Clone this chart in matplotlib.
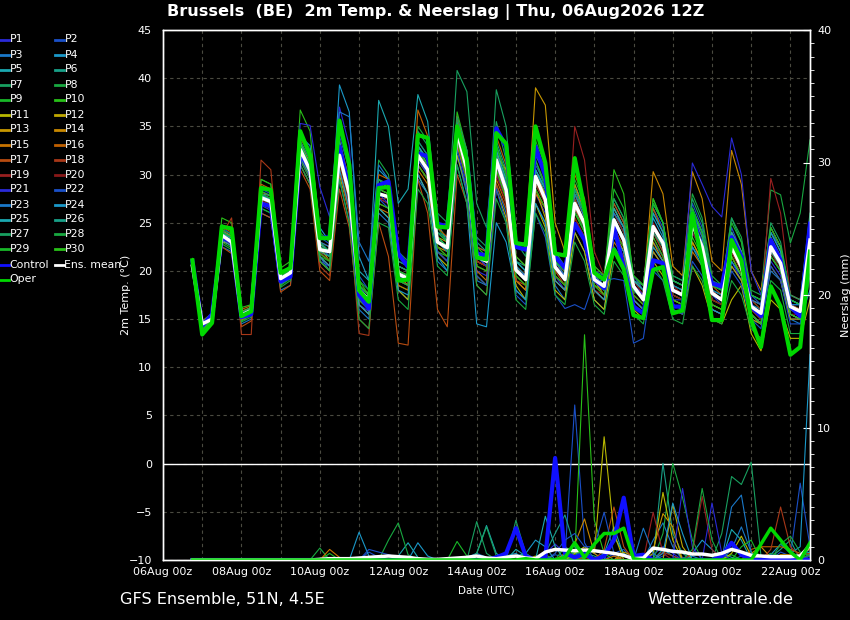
import numpy as np
import pandas as pd
import matplotlib
matplotlib.use("Agg")
import matplotlib.pyplot as plt
import matplotlib.dates as mdates
from matplotlib.lines import Line2D
from matplotlib.ticker import MultipleLocator

# 6-hourly steps, 06Aug2026 18z .. 22Aug2026 12z
times = pd.date_range("2026-08-06 18:00", periods=64, freq="6h")
date_ticks = pd.date_range("2026-08-06", "2026-08-22", freq="2D")

# 2m temperature (degC)
t_oper = [21.1,13.4,14.6,24.6,24.4,15.3,15.8,28.6,28.4,19.8,20.3,34.5,32.0,23.4,23.4,35.6,31.0,18.0,16.8,28.6,
          28.7,19.0,19.1,34.1,33.8,24.6,24.5,35.0,31.5,21.4,21.2,34.3,33.2,22.9,22.7,35.0,31.2,21.8,21.6,31.7,
          26.5,19.8,19.1,22.2,20.2,15.4,15.1,20.1,20.4,15.6,15.9,26.0,21.0,14.9,14.9,23.2,21.1,14.9,12.1,18.4,
          16.3,11.3,12.1,22.0]
t_ctrl = [21.0,14.3,15.5,23.5,23.0,15.2,15.5,27.0,26.7,18.9,19.4,32.2,30.5,23.4,23.5,32.9,28.5,17.5,16.1,28.9,
          29.3,21.8,20.4,32.2,31.9,24.9,24.6,34.5,31.5,21.8,21.6,34.8,32.9,22.5,22.2,32.9,29.8,21.5,20.3,24.9,
          23.2,19.1,18.2,24.6,20.4,16.3,15.6,21.1,20.8,16.3,16.3,26.0,21.8,18.7,18.4,23.5,21.5,16.3,15.3,23.2,
          21.1,16.3,15.3,24.9]
t_mean = [20.5,14.5,15.0,23.7,23.0,15.4,15.9,27.6,27.2,19.2,19.8,32.6,30.4,22.2,22.0,32.0,28.0,18.0,17.0,28.0,
          27.7,19.7,19.2,32.0,30.5,23.0,22.4,34.4,30.5,21.5,21.0,31.5,28.4,20.1,19.1,29.8,27.4,20.4,19.1,27.0,
          24.9,19.1,18.4,25.3,23.2,18.4,17.0,24.6,22.9,18.0,17.5,24.9,22.5,17.7,17.0,22.5,20.4,16.3,15.6,22.5,
          20.8,16.3,15.8,23.2]

t_p01 = [20.6, 14.2,15.2,23.2,22.6, 15.0,15.5,26.8,26.3, 18.6,19.2,31.5,29.5, 21.0,20.5,31.0,27.0, 16.5,15.8,27.5,27.0, 19.0,18.5,31.0,29.5, 22.0,21.0,33.0,29.0, 20.0,19.5,30.0,27.5, 19.0,18.0,28.0,26.0, 19.5,18.0,25.0,23.0, 18.0,17.0,23.5,22.0, 17.0,16.0,23.0,21.5, 17.0,17.0,24.0,22.0, 17.5,16.5,21.0,19.0, 15.5,14.5,21.0,19.5, 15.0,15.0,21.0]
t_p02 = [20.9, 14.6,15.4,24.5,23.8, 15.8,16.2,28.5,28.0, 19.8,20.4,33.5,31.5, 23.5,22.8,34.0,30.5, 19.5,18.0,29.5,28.5, 20.5,20.0,33.5,32.0, 24.0,23.5,35.5,31.5, 22.5,22.0,33.0,30.0, 21.0,20.0,31.0,29.0, 21.5,20.0,28.5,26.0, 20.0,19.5,27.0,25.0, 19.5,18.0,26.5,24.5, 19.0,18.5,27.0,24.5, 19.0,18.0,24.5,22.0, 17.5,16.5,24.0,22.5, 17.5,17.0,25.5]
t_p03 = [20.3, 14.0,14.8,22.5,22.0, 14.5,15.0,26.0,25.5, 18.0,18.5,31.0,29.0, 21.5,20.0,29.5,25.0, 16.0,15.0,26.0,25.0, 18.0,17.0,29.5,28.0, 21.0,20.0,32.0,28.0, 19.0,18.5,29.0,26.0, 18.0,17.0,27.0,25.0, 18.5,17.0,24.0,22.0, 17.0,16.0,22.5,21.0, 16.5,15.5,22.0,20.5, 16.5,16.0,22.5,21.0, 16.5,16.0,20.5,19.0, 15.0,14.5,20.0,19.0, 15.0,14.5,20.5]
t_p04 = [20.7, 14.4,15.3,24.0,23.5, 15.4,16.0,28.0,27.8, 19.5,20.0,34.0,33.0, 24.5,23.0,39.3,36.5, 21.5,19.0,30.5,29.5, 21.0,20.5,33.0,31.0, 23.5,22.5,35.0,32.0, 22.0,21.0,32.5,29.0, 20.0,19.5,30.5,28.0, 20.5,19.0,27.5,25.0, 19.5,18.5,26.0,24.0, 18.5,17.5,25.5,23.5, 18.5,18.0,25.5,23.0, 18.0,17.5,23.0,21.0, 16.5,16.0,23.0,21.5, 16.5,16.5,24.0]
t_p05 = [20.5, 14.3,15.0,23.5,23.0, 15.2,15.8,27.5,27.0, 19.0,19.5,32.5,30.5, 22.5,22.0,33.0,29.5, 20.0,19.0,37.7,35.0, 27.0,28.5,38.3,35.5, 25.0,23.0,34.0,30.0, 21.5,20.5,31.0,28.0, 20.0,19.0,30.0,28.0, 20.5,19.5,27.0,25.0, 19.0,18.0,25.0,23.5, 18.5,17.0,24.5,23.0, 18.0,17.5,25.0,22.5, 17.5,17.0,22.5,20.5, 16.0,15.5,22.5,21.0, 16.5,16.0,23.5]
t_p06 = [20.4, 14.5,15.2,23.8,23.2, 15.5,16.0,27.8,27.5, 19.3,20.0,32.8,30.8, 22.0,21.5,32.5,28.5, 18.0,17.0,28.5,28.0, 19.5,19.0,32.5,31.0, 23.5,22.5,35.5,32.5, 23.0,22.0,33.5,30.5, 21.0,20.5,32.0,30.0, 22.0,20.5,29.0,26.5, 20.0,19.0,26.5,24.5, 19.0,18.5,27.0,25.0, 19.0,18.5,26.5,24.0, 18.5,18.0,24.0,22.0, 17.0,16.5,24.5,22.5, 17.0,16.5,24.5]
t_p07 = [20.6, 14.0,15.0,24.2,23.6, 15.0,15.5,28.8,28.5, 19.5,20.2,33.0,31.0, 22.5,21.5,31.5,27.5, 17.5,17.0,29.0,29.0, 21.0,20.5,34.5,33.0, 26.0,25.0,40.8,38.6, 27.0,24.5,35.5,31.5, 21.0,20.0,30.0,27.0, 19.5,18.5,26.5,24.0, 18.5,18.0,25.0,23.0, 18.0,17.0,24.0,22.0, 17.5,17.0,24.5,22.0, 17.0,16.5,22.0,20.0, 16.0,15.0,22.5,20.5, 16.0,15.5,23.0]
t_p08 = [20.8, 14.4,15.4,24.8,24.2, 15.6,16.3,29.5,29.0, 19.8,20.5,34.5,32.5, 23.0,22.0,34.5,31.0, 19.0,18.0,31.5,30.0, 22.0,21.0,35.0,33.5, 24.5,23.0,36.0,32.0, 22.0,21.0,32.5,29.5, 20.5,19.5,30.5,28.5, 21.0,19.5,28.0,26.0, 19.5,19.0,27.5,25.5, 19.5,18.5,27.5,25.0, 19.5,19.0,28.0,25.5, 19.5,18.5,25.5,23.5, 18.0,17.5,28.4,27.9, 22.9,26.0,33.6]
t_p09 = [20.2, 13.8,14.8,23.0,22.4, 14.8,15.4,26.5,26.0, 18.5,19.2,31.5,29.5, 21.5,21.0,31.0,26.5, 16.5,15.5,27.0,26.5, 18.5,18.0,31.0,29.5, 22.0,21.5,33.5,29.5, 20.5,20.0,30.5,27.5, 19.5,18.5,29.0,27.0, 19.5,18.5,26.0,24.5, 18.5,18.0,25.5,23.5, 18.0,17.0,24.5,22.5, 17.5,17.0,24.5,22.5, 17.0,16.5,22.0,20.0, 16.5,15.5,22.0,20.5, 16.0,15.5,22.5]
t_p10 = [21.3, 14.8,15.6,25.5,25.0, 16.2,16.5,29.5,29.0, 20.3,21.0,36.7,34.5, 24.0,23.0,35.0,31.0, 19.0,17.5,29.5,28.5, 19.5,19.0,33.0,31.5, 24.0,23.0,36.5,32.5, 22.5,21.5,33.0,30.0, 21.5,20.5,31.5,29.0, 21.0,20.0,28.5,26.0, 20.0,19.0,30.5,28.0, 19.0,18.0,27.5,25.0, 18.5,18.0,26.5,24.0, 18.0,17.5,24.0,22.0, 17.0,16.0,24.0,22.0, 17.0,16.5,24.5]
t_p11 = [20.4, 14.1,15.0,23.0,22.8, 15.2,15.6,27.0,26.5, 18.8,19.5,32.0,30.0, 21.0,20.0,30.0,26.0, 17.0,16.0,26.5,25.5, 18.0,17.0,30.0,28.0, 21.5,20.5,32.0,28.5, 19.5,18.5,28.5,25.5, 18.5,17.0,27.0,24.5, 18.0,17.0,24.0,22.0, 17.0,16.0,22.0,20.0, 16.0,15.0,21.0,19.5, 16.0,15.5,20.5,18.5, 15.0,14.5,17.0,18.5, 13.5,11.7,17.0,16.0, 13.0,13.0,17.0]
t_p12 = [20.6, 14.5,15.3,24.0,23.4, 15.6,16.0,28.0,27.5, 19.5,20.0,33.0,31.0, 22.5,21.0,32.0,28.5, 18.5,17.5,28.0,27.5, 20.0,19.5,32.5,31.0, 23.5,23.0,34.0,30.5, 21.0,20.5,31.0,27.5, 19.0,18.0,28.5,25.5, 19.0,18.0,25.0,23.0, 18.0,17.0,24.0,22.0, 17.0,16.0,23.0,21.0, 17.0,16.5,23.0,21.0, 16.5,16.0,20.5,19.0, 15.5,14.5,20.5,19.0, 15.0,15.0,21.0]
t_p13 = [20.5, 14.2,15.1,23.6,23.1, 15.3,15.7,27.2,26.8, 19.0,19.6,32.0,30.0, 22.0,21.5,31.5,27.5, 17.5,16.5,28.5,28.0, 19.5,18.5,31.0,29.5, 22.5,22.0,33.5,30.0, 21.0,20.5,32.0,30.5, 22.5,23.0,39.0,37.2, 25.0,22.0,29.0,26.0, 19.0,17.5,24.0,22.0, 17.5,16.5,22.0,20.5, 17.0,16.5,23.0,21.0, 16.0,15.5,21.5,19.5, 15.0,14.5,21.5,20.0, 15.5,15.0,22.0]
t_p14 = [20.7, 14.6,15.5,24.2,23.6, 15.8,16.2,28.2,27.8, 19.6,20.3,33.3,31.2, 22.8,22.0,32.5,28.5, 18.5,17.5,29.0,28.5, 20.0,19.5,32.0,30.5, 23.0,22.5,34.5,31.0, 21.5,21.0,32.0,29.0, 20.5,19.5,30.0,28.0, 20.5,19.5,28.0,25.5, 19.5,18.5,26.5,24.5, 19.0,18.0,30.3,28.0, 20.5,19.5,30.3,27.5, 21.0,20.0,32.5,29.0, 20.0,18.0,24.5,22.5, 17.5,17.0,23.5]
t_p15 = [20.3, 13.9,14.8,23.2,22.6, 14.9,15.5,27.5,27.0, 18.8,19.5,31.8,29.8, 21.5,20.5,30.5,26.5, 16.5,15.5,26.5,26.0, 18.5,18.0,30.5,29.0, 22.0,21.0,33.0,29.5, 20.0,19.0,29.5,27.0, 19.0,18.0,28.0,26.5, 19.0,18.0,25.5,23.5, 18.0,17.0,23.0,21.5, 17.0,16.0,22.5,21.0, 16.5,16.0,22.0,20.5, 16.0,15.5,21.5,19.5, 15.5,14.5,22.0,20.5, 15.5,15.0,21.5]
t_p16 = [20.8, 14.7,15.6,24.6,24.0, 16.0,16.4,29.0,28.5, 19.8,20.4,33.8,32.0, 23.0,22.5,33.5,29.5, 18.5,17.5,30.0,29.5, 20.5,20.0,36.7,34.0, 24.5,23.5,36.0,32.0, 22.5,22.0,34.0,31.0, 21.5,20.5,33.0,30.5, 21.5,20.5,30.0,27.5, 20.5,19.5,27.0,25.0, 19.5,18.5,26.5,24.0, 19.0,18.5,26.0,23.5, 18.5,17.5,24.0,22.0, 17.0,16.5,23.5,21.5, 16.5,16.0,23.0]
t_p17 = [20.2, 13.6,14.6,22.5,21.8, 14.2,14.8,26.0,25.5, 17.8,18.5,30.5,28.5, 20.0,19.0,28.5,24.5, 15.0,14.0,25.0,21.5, 12.5,12.3,29.5,26.0, 16.0,14.2,30.0,27.0, 18.5,17.5,29.0,26.5, 19.0,18.5,29.5,27.0, 20.0,18.5,26.5,24.5, 18.5,17.5,24.5,22.5, 17.5,16.5,24.0,22.5, 17.5,17.0,24.5,22.0, 17.0,16.5,22.0,20.0, 16.0,15.0,22.0,20.5, 16.0,15.5,23.0]
t_p18 = [20.4, 14.0,14.9,23.8,25.5, 13.4,13.4,31.5,30.5, 19.5,20.0,31.0,29.0, 20.5,19.5,30.5,26.0, 13.5,13.3,27.5,27.5, 19.0,18.5,31.5,30.0, 23.0,22.0,34.0,31.0, 21.0,20.5,31.0,28.0, 20.0,19.0,29.5,27.0, 20.5,19.0,27.5,25.0, 19.0,18.0,25.0,23.0, 18.5,17.5,24.0,22.0, 18.0,17.5,24.5,22.5, 17.5,17.0,22.5,20.5, 16.0,15.5,22.0,20.5, 16.5,16.0,23.5]
t_p19 = [20.6, 14.3,15.2,23.4,22.9, 15.1,15.7,27.4,27.0, 19.1,19.8,32.3,30.2, 22.0,21.0,31.5,27.5, 17.0,16.5,27.5,27.0, 19.5,19.0,31.5,30.0, 23.0,22.0,34.0,30.0, 21.0,20.5,30.5,27.5, 20.0,19.0,29.0,27.0, 20.5,20.0,35.0,31.5, 22.0,19.5,26.0,24.0, 19.0,17.5,25.0,23.0, 18.5,17.5,25.0,22.5, 18.0,17.0,23.0,21.0, 17.0,16.0,29.6,26.0, 17.5,17.0,24.0]
t_p20 = [20.5, 14.1,15.0,23.3,22.7, 15.2,15.6,27.3,26.9, 18.9,19.4,31.8,29.7, 21.8,21.0,31.0,27.0, 17.0,16.0,27.0,26.5, 19.0,18.5,31.0,29.5, 22.5,21.5,33.5,29.5, 20.5,20.0,30.0,27.0, 19.5,18.5,28.5,26.5, 19.5,18.5,25.5,23.5, 18.0,17.5,24.0,22.5, 17.5,16.5,23.5,21.5, 17.5,17.0,24.0,22.0, 17.0,16.5,22.0,20.0, 16.0,15.0,22.0,20.0, 15.5,15.5,22.5]
t_p21 = [20.7, 14.3,15.2,23.9,23.4, 15.4,16.0,28.0,27.5, 19.6,20.3,35.3,35.1, 28.7,25.6,37.0,33.0, 18.5,17.0,28.0,27.0, 19.5,19.0,32.0,30.0, 23.0,22.0,34.0,30.5, 21.5,20.5,31.0,28.0, 20.0,19.5,29.5,27.5, 20.5,19.5,27.0,25.0, 19.0,18.5,25.0,23.5, 18.5,17.5,24.5,23.0, 19.0,18.5,31.2,29.0, 26.7,25.6,33.8,30.0, 20.0,17.5,24.0,22.0, 17.0,16.5,24.0]
t_p22 = [20.5, 14.2,15.1,23.5,23.0, 15.3,15.8,27.6,27.2, 19.2,19.8,32.5,30.5, 22.5,21.5,33.0,28.5, 17.0,16.0,27.5,26.5, 19.0,18.5,31.5,30.0, 22.0,21.0,32.5,28.5, 19.5,18.5,28.5,25.0, 17.5,16.5,26.0,23.5, 17.5,16.1,16.5,16.0, 19.0,19.0,19.2,19.0, 12.5,13.0,20.0,19.0, 16.0,15.5,21.0,19.5, 16.0,15.5,20.0,18.5, 15.0,14.0,20.5,19.0, 14.5,14.5,20.5]
t_p23 = [20.7, 14.5,15.4,24.1,23.5, 15.6,16.1,27.9,27.4, 19.4,20.1,33.0,31.0, 23.0,22.5,36.5,36.0, 23.0,21.0,31.0,29.5, 20.5,20.0,33.0,31.5, 23.5,22.5,35.0,31.5, 22.0,21.0,32.0,29.0, 20.5,19.5,30.5,28.5, 21.0,19.5,28.0,25.5, 19.5,18.5,26.0,24.5, 19.0,18.0,26.0,24.0, 18.5,18.0,26.0,23.5, 18.0,17.5,23.5,21.5, 17.0,16.5,23.5,21.5, 16.5,16.5,24.5]
t_p24 = [20.4, 14.0,14.9,23.2,22.6, 15.1,15.6,27.0,26.6, 18.7,19.3,31.8,29.8, 21.5,20.5,30.5,26.5, 16.5,15.5,26.5,25.5, 18.0,17.5,30.0,28.0, 21.5,20.0,31.0,27.0, 14.5,14.2,25.0,23.0, 18.0,17.0,27.0,25.0, 19.0,18.0,25.0,23.0, 18.0,17.0,23.5,22.0, 17.0,16.0,22.5,21.0, 16.5,16.0,22.5,20.5, 16.0,15.5,21.0,19.5, 15.5,14.5,21.5,20.0, 15.5,15.0,18.0]
t_p25 = [20.6, 14.4,15.2,23.9,23.4, 15.4,16.0,27.8,27.3, 19.3,19.9,33.2,31.0, 22.8,22.0,33.5,29.0, 18.5,17.5,29.0,28.5, 20.0,19.5,33.0,31.5, 23.5,22.5,35.0,31.0, 22.0,21.5,32.5,29.5, 21.0,20.0,30.5,28.5, 21.0,20.0,28.5,26.0, 20.0,19.0,26.5,24.5, 19.0,18.0,26.0,24.0, 19.0,18.5,26.0,24.0, 18.5,18.0,24.0,22.0, 17.5,17.0,24.0,22.0, 17.0,16.5,25.0]
t_p26 = [20.5, 14.3,15.1,23.7,23.2, 15.3,15.8,27.5,27.0, 19.0,19.6,32.2,30.2, 22.0,21.5,32.0,28.0, 18.0,17.0,28.0,27.5, 19.5,19.0,32.0,30.5, 23.0,22.0,34.5,30.5, 21.5,21.0,31.5,28.5, 20.0,19.0,29.5,27.5, 20.5,19.0,27.0,24.5, 19.0,18.0,25.0,23.0, 18.0,17.0,24.0,22.5, 18.0,17.5,24.5,22.5, 17.5,17.0,22.5,20.5, 16.5,15.5,22.0,20.5, 16.0,15.5,23.0]
t_p27 = [20.9, 14.6,15.5,24.3,23.8, 15.7,16.2,28.3,27.8, 19.7,20.3,33.5,31.5, 23.0,22.0,33.0,29.5, 18.5,17.5,29.5,29.0, 20.5,20.0,33.5,32.0, 24.0,23.0,36.0,32.5, 23.5,22.5,38.8,35.0, 23.0,21.5,31.5,28.5, 21.0,20.0,28.5,26.0, 20.0,19.0,27.5,25.5, 19.5,18.5,27.0,25.0, 19.5,19.0,27.5,25.0, 19.0,18.5,25.5,23.0, 17.5,17.0,25.0,23.0, 17.5,17.0,26.0]
t_p28 = [20.3, 13.9,14.7,22.8,22.2, 14.7,15.2,26.5,26.0, 18.3,19.0,31.0,29.0, 21.0,20.0,29.5,25.0, 15.0,14.0,25.0,24.5, 17.0,16.0,28.5,27.0, 20.5,19.5,31.0,27.0, 18.5,17.5,27.5,25.0, 17.0,16.0,26.0,24.0, 17.5,16.5,23.0,21.0, 16.5,15.5,21.0,19.5, 15.5,14.5,20.5,19.0, 15.0,14.5,20.5,19.0, 15.0,14.5,19.0,17.5, 14.0,13.0,19.0,18.0, 13.5,13.5,19.5]
t_p29 = [20.7, 14.5,15.3,24.0,23.5, 15.5,16.0,28.0,27.5, 19.5,20.0,33.0,31.0, 22.5,22.0,33.0,29.0, 18.5,17.5,28.5,28.0, 20.0,19.5,32.5,31.0, 23.5,22.5,35.0,31.5, 22.0,21.5,33.0,30.0, 21.5,20.5,33.5,31.0, 21.0,20.0,29.5,27.0, 20.5,19.5,28.5,26.5, 19.5,18.5,27.0,25.0, 19.0,18.5,26.5,24.0, 18.5,18.0,25.0,23.0, 17.5,17.0,24.5,22.5, 17.0,16.5,25.0]
t_p30 = [20.4, 14.0,14.9,23.4,22.8, 15.1,15.6,27.1,26.7, 18.9,19.5,32.0,30.0, 21.8,21.0,31.5,27.5, 17.0,16.0,27.0,26.5, 19.0,18.5,31.0,29.5, 22.5,21.5,33.5,29.5, 20.5,20.0,30.5,27.5, 19.5,18.5,28.5,26.5, 19.5,18.5,26.0,24.0, 18.5,17.5,24.0,22.5, 17.5,16.5,23.5,21.5, 17.0,16.5,23.5,21.5, 16.5,16.0,21.5,19.5, 15.5,14.5,21.5,20.0, 15.5,15.0,22.0]

# 6-hourly precipitation (mm)
r_oper = [0,0,0,0,0,0,0,0,0,0,0,0,0, 0,0,0,0, 0,0,0,0, 0,0,0,0, 0,0,0,0, 0,0,0,0, 0,0.1,0,0, 0,0.2,1.3,0.2, 1.2,2.0,2.0,2.4, 0.1,0,0,0, 0,0,0,0, 0,0,0,0, 0,1.2,2.4,1.5, 0.6,0,1.3]
r_ctrl = [0,0,0,0,0,0,0,0,0,0,0,0,0, 0,0,0,0, 0,0,0,0, 0,0,0,0, 0,0,0,0, 0,0,0.2,0.5, 2.4,0.3,0,0.2, 7.7,0.5,0.2,0.5, 0,0.3,1.5,4.7, 0.3,0.4,0,0, 0,0,0,0, 0,0.3,1.3,0.4, 0,0,0,0, 0,0,0]
r_mean = [0,0,0,0,0,0,0,0,0,0,0,0,0, 0.05,0.1,0.1,0.1, 0.15,0.2,0.25,0.3, 0.25,0.2,0.1,0.05, 0.05,0.1,0.15,0.2, 0.3,0.15,0.1,0.2, 0.3,0.15,0.1,0.6, 0.8,0.75,0.7,0.75, 0.7,0.6,0.5,0.35, 0.1,0.15,0.9,0.8, 0.65,0.6,0.45,0.45, 0.35,0.5,0.8,0.6, 0.35,0.3,0.25,0.25, 0.25,0.3,1.1]

r_p01 = [0,0,0,0,0,0,0,0,0,0,0,0,0, 0,0,0,0, 0,0,0,0, 0,0,0,0, 0,0,0,0, 0.3,0,0,0, 0,0,0,0.5, 1.2,0.5,0,0.3, 0,0.8,0.3,0, 0,0,0.4,1.0, 0.5,0,0,0, 0,0.3,1.2,0.4, 0,0,0.5,0.2, 0,0,0.4]
r_p02 = [0,0,0,0,0,0,0,0,0,0,0,0,0, 0,0,0,0, 0,0.6,0.2,0, 0,0,0,0, 0,0,0,0, 0,0,0,0, 0,0,0,0, 0.4,0.2,11.7,1.3, 0,0,0.5,0.8, 0,0,0,0.3, 0.8,0.2,0,0, 0,0,0,0.3, 0.4,0,0,0.6, 0.3,5.8,1.0]
r_p03 = [0,0,0,0,0,0,0,0,0,0,0,0,0, 0,0,0,0, 0,0,0,0, 0,0,0,0, 0,0,0,0.2, 0.5,0.2,0,0, 0,0,0,0, 0,0,0.3,0.8, 0.5,0,0,0, 0,0,1.5,2.8, 1.0,0,0.3,0, 0,0,0.8,2.5, 0.6,0,0,0, 0,0.3,0.8]
r_p04 = [0,0,0,0,0,0,0,0,0,0,0,0,0, 0,0,0,0, 2.1,0.3,0,0, 0,0,0,0, 0,0,0,0, 0,0,0,0.3, 0.5,0,0,0.2, 0,0.4,0,0, 0,0,1.8,0.5, 0,0,0,0, 0,0,0.5,1.5, 0.8,0,0,0, 0,0,0.4,1.2, 0.5,1.0,15.5]
r_p05 = [0,0,0,0,0,0,0,0,0,0,0,0,0, 0,0,0,0, 0,0,0,0, 0.3,1.3,0.2,0, 0,0,0,0, 0,0,0,0, 0.8,0.3,0,0, 0,0,0.6,0, 0,0.5,2.5,0.3, 0,0,0,0.8, 0.3,0,0,0, 0,0.5,0.2,0, 0,0,0,0, 0,0.4,0.6]
r_p06 = [0,0,0,0,0,0,0,0,0,0,0,0,0, 0,0,0,0, 0,0,0,0, 0,0,0,0, 0,0,0,0, 0,0,0,0, 0,0,0,0, 0,0,0,0.5, 0.3,0,0,0, 0,0,0,7.3, 2.0,0.5,0,0, 0,0,0,0, 0,0,0.2,0.8, 1.5,0,0.3]
r_p07 = [0,0,0,0,0,0,0,0,0,0,0,0,0, 0,0,0,0, 0,0,0,0, 0,0,0,0, 0,0,0,0, 2.9,0.5,0,0, 0,0,0,0, 0,0,0,0, 0,0,0,0, 0,0,0,0, 0,0,0,0, 0,2.0,6.3,5.7, 7.4,0.3,0,0, 0,0,0.5]
r_p08 = [0,0,0,0,0,0,0,0,0,0,0,0,0, 0.9,0,0,0, 0,0,0,1.5, 2.8,0.4,0,0, 0,0,0,0, 0,0,0,0, 0,0,0,0, 0,0,0,0, 0,0,0,0, 0,0,0,2.0, 7.3,4.7,1.5,0, 0,0,0,0, 0,0,0.5,0.3, 0,0.2,0.3]
r_p09 = [0,0,0,0,0,0,0,0,0,0,0,0,0, 0,0.5,0,0, 0,0,0,0, 0,0,0,0, 0,0,1.4,0.3, 0,0,0,0, 0,0,0,0, 0,1.0,0.5,0, 0,0,0,0, 0,0,0,0, 0,0,0,0, 0,0,0.4,0, 0,0,0,0, 0,0,0]
r_p10 = [0,0,0,0,0,0,0,0,0,0,0,0,0, 0,0,0,0, 0,0,0,0, 0,0,0,0, 0,0,0,0, 0,0,0,0, 0,0,0,0.4, 0,0,0.2,17.0, 3.0,0.5,0,0, 0,0,0,0, 0,0,0,0, 0,0,0,0, 0,0,0,0, 0,0,0]
r_p11 = [0,0,0,0,0,0,0,0,0,0,0,0,0, 0,0,0,0, 0,0,0,0, 0,0,0,0, 0,0,0,0, 0,0,0,0, 0,0,0.3,0, 0,0,0.5,1.0, 0.5,9.3,2.0,0, 0,0,0.5,5.1, 1.5,0,0,0, 0,0,0.5,1.8, 0.3,0,0,0, 0,0,0]
r_p12 = [0,0,0,0,0,0,0,0,0,0,0,0,0, 0,0,0,0, 0,0,0,0, 0,0,0,0, 0,0,0,0, 0,0,0,0, 0,0,0,0, 0,0,0,0, 0,0,0,0.6, 0.3,0,0,0, 4.2,1.0,0,0, 0,0,0,0, 0,0,0.3,0, 0,0,0]
r_p13 = [0,0,0,0,0,0,0,0,0,0,0,0,0, 0,0,0,0, 0,0,0,0, 0,0,0,0, 0,0,0,0, 0,0,0,0, 0,0,0,0, 0,0,0,0, 0,0,0,0, 0,0,0.8,3.5, 2.5,0,0,0, 0,0,0,0, 0.5,1.0,0.2,0, 0,0,0]
r_p14 = [0,0,0,0,0,0,0,0,0,0,0,0,0, 0,0,0,0, 0,0,0,0, 0,0,0,0, 0,0,0,0, 0,0,0,0, 0,0,0,0, 0,0.5,1.2,3.1, 0.5,0,0,0.3, 0,0,0,0, 0,0,0,0, 0,0,0,0, 0,0,0,0.4, 0.4,0.3,0.5]
r_p15 = [0,0,0,0,0,0,0,0,0,0,0,0,0, 0,0.8,0.2,0, 0,0,0,0, 0,0,0,0, 0,0,0,0, 0,0,0,0, 0,0,0,0, 0,0,0,0, 0,0,0.3,0, 0,0,0,0, 0,0,0,0, 0,0,0,0, 0,0,0,0, 0,0,0]
r_p16 = [0,0,0,0,0,0,0,0,0,0,0,0,0, 0,0,0,0, 0,0,0,0, 0,0,0,0, 0,0,0,0, 0,0,0,0, 0,0,0,0, 0,0,0,0, 0,0,0,0, 0,0,0,0, 0,0,0,0, 0,0,0,0, 0.8,1.0,1.0,1.0, 0.8,0.5,0.8]
r_p17 = [0,0,0,0,0,0,0,0,0,0,0,0,0, 0,0,0,0, 0,0,0,0, 0,0,0,0, 0,0,0,0, 0,0,0,0, 0,0,0,0, 0,0,0,0.2, 0,0.8,4.0,1.0, 0,0,0,0, 0,0,0,0, 0,0,0,0, 0,0,0,0, 0,0,0]
r_p18 = [0,0,0,0,0,0,0,0,0,0,0,0,0, 0,0,0,0, 0,0,0,0, 0,0,0,0, 0,0,0,0, 0,0,0,0, 0,0,0,0, 0,0,0,0, 0,0,0,0, 0,0,0,0.6, 0.3,0,0,0, 0,0,0,0, 0,0,0.8,4.0, 1.0,0.3,0.5]
r_p19 = [0,0,0,0,0,0,0,0,0,0,0,0,0, 0,0,0,0, 0,0,0,0, 0,0,0,0, 0,0,0,0, 0,0,0,0, 0,0,0,0, 0,0,0,0, 0,0,0,0, 0,0,3.6,0.5, 0,0,0.5,4.8, 0.8,0,0,0, 0,0,0,0, 0,0,0]
r_p20 = [0,0,0,0,0,0,0,0,0,0,0,0,0, 0,0,0,0, 0,0,0,0, 0,0,0,0, 0,0,0,0, 0,0,0,0, 0,0,0,0, 0,0,0,0, 0,0,0,0, 0,0,0,0, 0,0,0,0, 0,0,0,0, 0,0,0,0, 0,0,0]
r_p21 = [0,0,0,0,0,0,0,0,0,0,0,0,0, 0,0,0,0, 0,0,0,0, 0,0,0,0, 0,0,0,0, 0,0,0,0, 0,0,0,0, 0,0,0,0, 0,0,0,0, 0,0,0,0, 0,5.4,1.0,0, 4.3,0.5,0,0, 0,0,0,0, 0,0,0.3]
r_p22 = [0,0,0,0,0,0,0,0,0,0,0,0,0, 0,0,0,0, 0,0.8,0.6,0.4, 0.2,0,0,0, 0,0,0,0, 0,0,0,0, 0,0,0,0, 0.5,1.5,2.0,1.0, 1.0,3.6,0.5,0.3, 0,0,0,0, 0,0,0,0, 0,0,0,0, 0,0,0,0, 0,0,0]
r_p23 = [0,0,0,0,0,0,0,0,0,0,0,0,0, 0,0,0,0, 0,0,0,0, 0,0,0,0, 0,0,0,0, 0,0,0,0, 0,0,0,0, 0,0,0,0, 0,0,0,0, 0,2.4,0.5,0, 0,0,0,0, 0,0,4.0,4.9, 0.5,0,0,0, 0,0,0]
r_p24 = [0,0,0,0,0,0,0,0,0,0,0,0,0, 0,0,0,0, 0,0,0,0, 0,0,1.3,0.3, 0,0,0,0, 0,0,0,0, 0.3,0.5,1.5,1.0, 0,0,0,0, 0,0,0,0, 0,0,0,0.5, 4.3,2.0,0,0, 0,0,0,0, 0,0,0,0, 0,0,0]
r_p25 = [0,0,0,0,0,0,0,0,0,0,0,0,0, 0,0,0,0, 0,0,0,0, 0,0,0,0, 0,0,0,0, 0.5,2.6,0.5,0, 0,0,0,3.3, 1.0,0,0,0, 0,0,0,0, 0,0,0,0, 0,0,0,0, 0,0,2.3,1.5, 0,0,0,0, 0,0,0]
r_p26 = [0,0,0,0,0,0,0,0,0,0,0,0,0, 0,0,0,0, 0,0,0,0, 0,0,0,0, 0,0,0,0, 0,0,0,0, 0,0,0,0.5, 2.0,3.4,1.0,0, 0,0,0,0, 0,0,0,0, 0,0,0,0, 0,0,0,0, 0,0,0,0, 0,0,0]
r_p27 = [0,0,0,0,0,0,0,0,0,0,0,0,0, 0,0,0,0, 0,0,0,0, 0,0,0,0, 0,0,0,0, 0.5,2.5,0.3,0, 3.0,0.5,0,0, 0,0,0,0, 0,0,0,0, 0,0,0,0, 0,0,0,0, 0,0,0,0, 0,0,0,0, 0,0,0]
r_p28 = [0,0,0,0,0,0,0,0,0,0,0,0,0, 0,0,0,0, 0,0,0,0, 0,0,0,0, 0,0,0,0, 0,0,0,0, 0,0,0,0, 0,0,0,0, 0,0,0,0, 0,0,0,0, 0,0,0.8,5.4, 1.5,0,0,0, 0,0,0,1.2, 1.8,0.6,0.3]
r_p29 = [0,0,0,0,0,0,0,0,0,0,0,0,0, 0,0,0,0, 0,0,0,0, 0,0,0,0, 0,0,0,0, 0,0,0,0, 0,0.5,0,0, 0,0,0,0, 0,0,0,0, 0,0,0,0, 0,0,0,0, 0,0,0,1.0, 1.5,0,0,0, 0,0,0]
r_p30 = [0,0,0,0,0,0,0,0,0,0,0,0,0, 0,0,0,0, 0,0,0,0, 0,0,0,0, 0,0,0,0, 0,0,0,0, 0,0,0,0, 0,0,0.8,0, 0,0,0,0, 0,0,0,0, 0,0,0,0, 0,0,0,0, 0,0,0,0, 0,0,0]

t_members = [t_p01, t_p02, t_p03, t_p04, t_p05, t_p06, t_p07, t_p08, t_p09, t_p10,
             t_p11, t_p12, t_p13, t_p14, t_p15, t_p16, t_p17, t_p18, t_p19, t_p20,
             t_p21, t_p22, t_p23, t_p24, t_p25, t_p26, t_p27, t_p28, t_p29, t_p30]
r_members = [r_p01, r_p02, r_p03, r_p04, r_p05, r_p06, r_p07, r_p08, r_p09, r_p10,
             r_p11, r_p12, r_p13, r_p14, r_p15, r_p16, r_p17, r_p18, r_p19, r_p20,
             r_p21, r_p22, r_p23, r_p24, r_p25, r_p26, r_p27, r_p28, r_p29, r_p30]
for k, (a, b) in enumerate(zip(t_members, r_members)):
    assert len(a) == 64 and len(b) == 64, (k + 1, len(a), len(b))

# colours repeat every 20 members
cols20 = ['#2a2ad8', '#1a50c8', '#1a78c8', '#1a98c8', '#1aa8b0', '#18a088', '#18a060', '#18a840',
          '#18b828', '#28c018', '#b8b800', '#c0a800', '#c89800', '#c88800', '#c87400', '#c06000',
          '#b84c10', '#a83818', '#982020', '#881818']
member_cols = [cols20[k % 20] for k in range(30)]
c_ctrl = '#1010ff'
c_oper = '#00d800'
grid_c = '#4a4a40'

W, H = 850, 620
fig = plt.figure(figsize=(W / 100, H / 100), dpi=100, facecolor='black')
ax = fig.add_axes([163 / W, 1 - 560 / H, (810 - 163) / W, (560 - 30) / H], facecolor='black')
ax2 = ax.twinx()

for k in range(30):
    ax.plot(times, t_members[k], color=member_cols[k], lw=0.8)
ax.plot(times, t_ctrl, color=c_ctrl, lw=3)
ax.plot(times, t_mean, color='white', lw=2.5)
ax.plot(times, t_oper, color=c_oper, lw=3)
ax.axhline(0, color='white', lw=1)

for k in range(30):
    ax2.plot(times, r_members[k], color=member_cols[k], lw=0.8)
ax2.plot(times, r_ctrl, color=c_ctrl, lw=3)
ax2.plot(times, r_mean, color='white', lw=2.5)
ax2.plot(times, r_oper, color=c_oper, lw=2.5)

ax.set_xlim(pd.Timestamp("2026-08-06 00:00"), pd.Timestamp("2026-08-22 12:00"))
ax.set_ylim(-10, 45)
ax2.set_ylim(0, 40)
ax.yaxis.set_major_locator(MultipleLocator(5))
ax2.yaxis.set_major_locator(MultipleLocator(10))
ax2.yaxis.set_minor_locator(MultipleLocator(1))
ax.set_xticks(date_ticks)
ax.xaxis.set_minor_locator(mdates.DayLocator())
ax.xaxis.set_major_formatter(mdates.DateFormatter('%d%b %Hz'))

ax.grid(True, which='both', axis='x', color=grid_c, ls=(0, (3, 3)), lw=0.8)
ax.grid(True, which='major', axis='y', color=grid_c, ls=(0, (3, 3)), lw=0.8)
ax.set_axisbelow(True)

for a in (ax, ax2):
    for s in a.spines.values():
        s.set_color('white')
        s.set_linewidth(1)
    a.tick_params(colors='white', labelsize=8, direction='in')
ax.tick_params(axis='both', which='both', length=0, pad=8)
ax.tick_params(axis='x', pad=5)
ax2.tick_params(axis='y', which='major', length=5, pad=5)
ax2.tick_params(axis='y', which='minor', length=3, color='white')

ax.set_ylabel('2m Temp. (°C)', color='white', fontsize=8)
ax.yaxis.set_label_coords((131 - 163) / 647, 0.5)
ax2.set_ylabel('Neerslag (mm)', color='white', fontsize=8)
ax2.yaxis.set_label_coords((841 - 163) / 647, 0.5)
ax.set_xlabel('Date (UTC)', color='white', fontsize=7.5, labelpad=6)

fig.text(436 / W, 1 - 12 / H, 'Brussels  (BE)  2m Temp. & Neerslag | Thu, 06Aug2026 12Z',
         color='white', fontsize=11.6, fontweight='bold', ha='center', va='center')
fig.text(120 / W, 1 - 599 / H, 'GFS Ensemble, 51N, 4.5E', color='white', fontsize=11.6,
         ha='left', va='center')
fig.text(793 / W, 1 - 599 / H, 'Wetterzentrale.de', color='white', fontsize=11.6,
         ha='right', va='center')

# legend on the left, two columns, row-wise
labels = ['P%d' % (k + 1) for k in range(30)] + ['Control', 'Ens. mean', 'Oper']
lcols = member_cols + [c_ctrl, 'white', c_oper]
for n, (lab, c) in enumerate(zip(labels, lcols)):
    row, col = divmod(n, 2)
    y = 1 - (39.5 + 15 * row) / H
    x0 = 0 if col == 0 else 55
    fig.add_artist(Line2D([x0 / W, (x0 + 9) / W], [y, y], color=c, lw=2))
    fig.text((x0 + 9.5) / W, y, lab, color='white', fontsize=7.8, ha='left', va='center')

fig.savefig('out.png', dpi=100, facecolor='black')
